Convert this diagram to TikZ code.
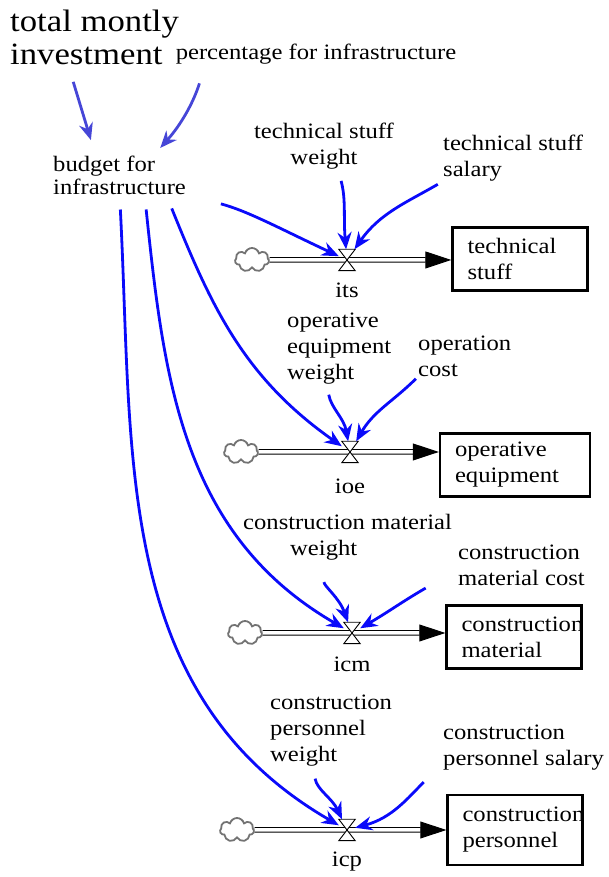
\documentclass[tikz,border=0pt]{standalone}
\usepackage{fontspec}
\setmainfont{Liberation Serif}[FakeStretch=1.12]
\usetikzlibrary{arrows.meta,shapes.symbols,calc}
\definecolor{linkblue}{RGB}{10,10,250}
\definecolor{inblue}{RGB}{70,70,215}
\tikzset{
  aux/.style    = {inner sep=0pt, font=\fontsize{22}{26}\selectfont},
  auxl/.style   = {aux, align=left, anchor=west},
  stock/.style  = {draw, line width=2.4pt, align=left, inner xsep=15pt,
                   text width=105pt, minimum height=63pt,
                   font=\fontsize{22}{26}\selectfont},
  valve/.style  = {inner sep=0pt, minimum width=16pt, minimum height=21pt},
  source/.style = {cloud, cloud puffs=7, aspect=1.5, draw=black!55, line width=1.8pt,
                   minimum width=34pt, minimum height=24pt, inner sep=0pt},
  pipe/.style   = {line width=1pt, double=white, double distance=3.5pt,
                   -{Triangle[length=26pt,width=17pt]}},
  link/.style   = {linkblue, line width=2.8pt, -{Stealth[length=17pt,width=14pt]}},
  inlink/.style = {link, inblue},
}

\begin{document}
\begin{tikzpicture}[x=1pt, y=1pt]
    \useasboundingbox (0,0) rectangle (608,877);

    % inputs
    \node [auxl, font=\fontsize{31}{33}\selectfont] (total) at (10,840) {total montly\\investment};
    \node [aux] (percentage) at (316,823) {percentage for infrastructure};
    \node [auxl, font=\fontsize{22}{23}\selectfont] (budget) at (53,702) {budget for\\infrastructure};

    \node [aux, align=center] (tsw) at (324,731) {technical stuff\\weight};
    \node [auxl] (tss) at (443,719) {technical stuff\\salary};
    \node [auxl] (oew) at (287,528) {operative\\equipment\\weight};
    \node [auxl] (opc) at (418,521) {operation\\cost};
    \node [auxl] (cmw) at (243,340) {construction material\\\hspace*{47pt}weight};
    \node [auxl] (cmc) at (458,312) {construction\\material cost};
    \node [auxl] (cpw) at (270,146) {construction\\personnel\\weight};
    \node [auxl] (cps) at (443,129) {construction\\personnel salary};

    % stocks, sources and valves
    \node [stock] (tstuff) at (520,618) {technical\\stuff};
    \node [stock, text width=120pt] (opequip) at (515,412) {operative\\equipment};
    \node [stock] (cmat) at (514,240) {construction\\material};
    \node [stock, minimum height=70pt] (cpers) at (515,47) {construction\\personnel};

    \node [source] (srcits) at (252,617) {};
    \node [source] (srcioe) at (241,425) {};
    \node [source] (srcicm) at (245,244) {};
    \node [source] (srcicp) at (237,47) {};

    \node [valve] (its) at (347,617) {};
    \node [valve] (ioe) at (350,425) {};
    \node [valve] (icm) at (352,244) {};
    \node [valve] (icp) at (347,47) {};

    \node [aux] (itslabel) at (347,587) {its};
    \node [aux] (ioelabel) at (350,391) {ioe};
    \node [aux] (icmlabel) at (352,213) {icm};
    \node [aux] (icplabel) at (347,15) {icp};

    % flows
    \draw [pipe] (srcits) -- (tstuff.west |- its);
    \draw [pipe] (srcioe) -- (opequip.west |- ioe);
    \draw [pipe] (srcicm) -- (cmat.west |- icm);
    \draw [pipe] (srcicp) -- (cpers.west |- icp);
    \foreach \v in {its,ioe,icm,icp}
        \filldraw [fill=white, line width=.9pt] (\v.north west) -- (\v.north east)
            -- (\v.south west) -- (\v.south east) -- cycle;

    % links
    \draw [inlink, shorten <=18pt, shorten >=16pt] ([xshift=58pt]total.south west) -- ([xshift=-24pt]budget.north);
    \draw [inlink, shorten <=20pt, shorten >=10pt] ([xshift=30pt]percentage.south west) to[bend left=12] ([xshift=34pt]budget.north);

    \draw [link, shorten <=36pt] (budget.south east) to[out=-15, in=155] (its);
    \draw [link, shorten <=15pt] ([xshift=-20pt]budget.south east) to[out=-68, in=145] (ioe);
    \draw [link, shorten <=15pt] ([xshift=25pt]budget.south) to[out=-84, in=150] (icm);
    \draw [link, shorten <=15pt] (budget.south) to[out=-87, in=150] (icp);

    \draw [link, shorten <=12pt] ([xshift=14pt]tsw.south) to[out=-75, in=95] (its);
    \draw [link, shorten <=6pt] (tss.south west) to[out=210, in=55] (its);
    \draw [link, shorten <=10pt] ([xshift=40pt]oew.south west) to[out=-80, in=100] (ioe);
    \draw [link, shorten <=3pt] (opc.south west) to[out=225, in=60] (ioe);
    \draw [link, shorten <=22pt] ([xshift=79pt]cmw.south west) to[out=-85, in=110] (icm);
    \draw [link, shorten <=5pt] ([xshift=-28pt]cmc.south west) to[out=210, in=30] (icm);
    \draw [link, shorten <=12pt] ([xshift=43pt]cpw.south west) to[out=-80, in=115] (icp);
    \draw [link, shorten <=16pt] ([xshift=-8pt]cps.south west) to[out=225, in=15] (icp);
\end{tikzpicture}
\end{document}
